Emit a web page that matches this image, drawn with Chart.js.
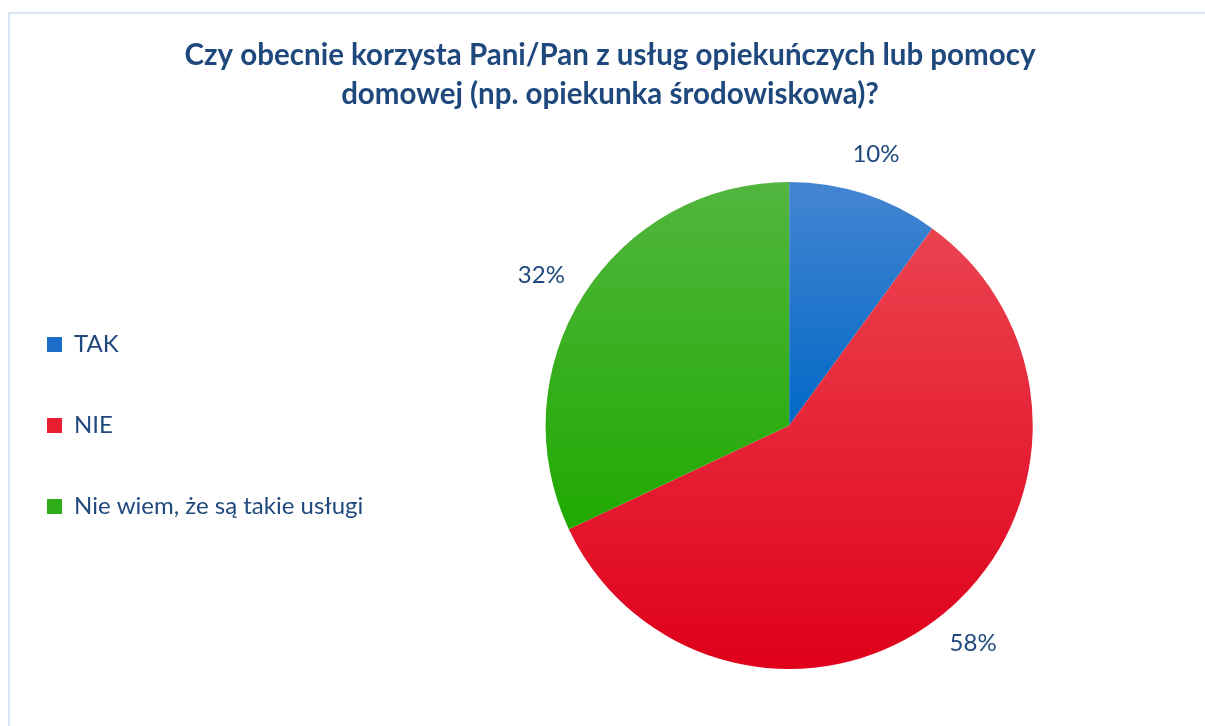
<!DOCTYPE html>
<html>
<head>
<meta charset="utf-8">
<script src="https://cdn.jsdelivr.net/npm/chart.js@4.4.1/dist/chart.umd.min.js"></script>
<style>
  html, body { margin: 0; padding: 0; background: #fff; overflow: hidden; }
  #wrap { position: relative; width: 1205px; height: 726px; }
  #frame { position: absolute; left: 8px; top: 12px; right: -10px; bottom: -10px; border: 2px solid #D9E5F4; }
  canvas { position: absolute; left: 0; top: 0; }
</style>
</head>
<body>
<div id="wrap">
  <div id="frame"></div>
  <canvas id="chartUslugi" width="1205" height="726"></canvas>
</div>
<script>
// --- Dane ---
const categories = ['TAK', 'NIE', 'Nie wiem, że są takie usługi'];
const shares = [10, 58, 32];
const titleLines = ['Czy obecnie korzysta Pani/Pan z usług opiekuńczych lub pomocy', 'domowej (np. opiekunka środowiskowa)?'];

// kolory: [jasny, ciemny, pozycja ciemnego]
const gradColors = [
  ['#4585D2', '#0068C6', 0.5],
  ['#EC4A55', '#E0001B', 1.0],
  ['#52B63F', '#1FA900', 0.72]
];
const legendColors = ['#1C6DC8', '#E81E30', '#2EAD18'];
const textColor = '#1F497D';

function sliceFill(ctx) {
  const chart = ctx.chart;
  const area = chart.chartArea;
  const c = gradColors[ctx.dataIndex % gradColors.length];
  if (!area) return c[1];
  const r = Math.min(area.right - area.left, area.bottom - area.top) / 2;
  const cy = (area.top + area.bottom) / 2;
  const g = chart.ctx.createLinearGradient(0, cy - r, 0, cy + r);
  g.addColorStop(0, c[0]);
  g.addColorStop(c[2], c[1]);
  if (c[2] < 1) g.addColorStop(1, c[1]);
  return g;
}

// etykiety procentowe na zewnątrz wycinków
const outsideLabels = {
  id: 'outsideLabels',
  afterDatasetsDraw(chart) {
    const ctx = chart.ctx;
    const meta = chart.getDatasetMeta(0);
    ctx.save();
    ctx.font = '24px Lato';
    ctx.fillStyle = textColor;
    ctx.textAlign = 'center';
    ctx.textBaseline = 'middle';
    meta.data.forEach((arc, i) => {
      const p = arc.getProps(['x', 'y', 'startAngle', 'endAngle', 'outerRadius'], true);
      const mid = (p.startAngle + p.endAngle) / 2;
      const w = ctx.measureText(shares[i] + '%').width;
      const rr = p.outerRadius + 30;
      const x = p.x + Math.cos(mid) * (rr + w / 2 * Math.abs(Math.cos(mid)));
      const y = p.y + Math.sin(mid) * (rr + 12 * Math.abs(Math.sin(mid)));
      ctx.fillText(shares[i] + '%', x, y);
    });
    ctx.restore();
  }
};

new Chart(document.getElementById('chartUslugi').getContext('2d'), {
  type: 'pie',
  data: {
    labels: categories,
    datasets: [{ data: shares, backgroundColor: sliceFill, borderWidth: 0 }]
  },
  options: {
    responsive: false, animation: false,
    layout: { padding: { top: 0, left: -10, right: -25, bottom: 57 } },
    plugins: {
      title: {
        display: true, text: titleLines, color: textColor,
        font: { family: 'Lato', size: 29.5, weight: 'bold', lineHeight: 1.32 },
        padding: { top: 36, bottom: 68 }
      },
      legend: {
        position: 'left',
        fullSize: false,
        labels: {
          font: { family: 'Lato', size: 24 }, color: textColor,
          boxWidth: 15, boxHeight: 15, padding: 57,
          generateLabels: chart => categories.map((c, i) => ({
            text: c, fillStyle: legendColors[i], strokeStyle: legendColors[i], lineWidth: 0,
            fontColor: textColor, hidden: false, index: i
          }))
        }
      },
      tooltip: { enabled: false }
    }
  },
  plugins: [outsideLabels]
});
</script>
</body>
</html>
